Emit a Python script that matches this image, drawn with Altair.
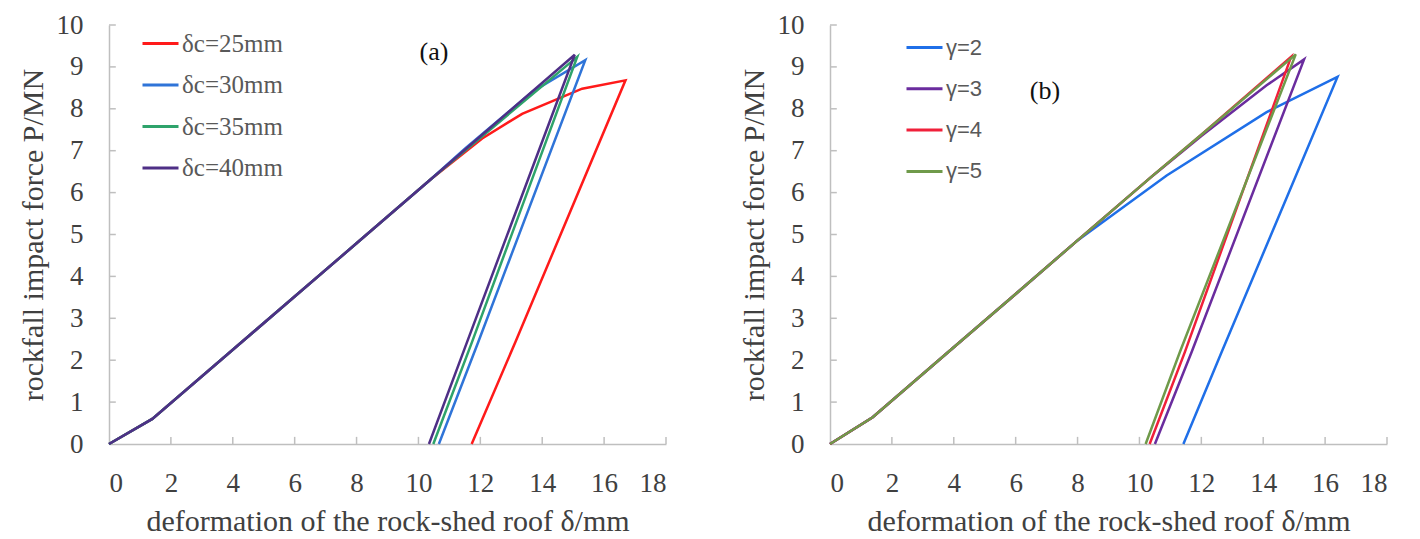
import altair as alt
import pandas as pd

# ---------------- data ----------------
x_ticks = [0, 2, 4, 6, 8, 10, 12, 14, 16, 18]
y_ticks = [0, 1, 2, 3, 4, 5, 6, 7, 8, 9, 10]

# panel (a)
a_names = ["δc=25mm", "δc=30mm", "δc=35mm", "δc=40mm"]
a_colors = ["#ff1a1a", "#2f74d8", "#2ea36b", "#4e2f86"]
a25_x = [0, 1.4, 4, 6, 8, 10.4, 12.06, 13.35, 15.29, 16.69, 13.13, 11.72]
a25_y = [0, 0.6, 2.25, 3.52, 4.79, 6.32, 7.29, 7.88, 8.48, 8.68, 2.43, 0]
a30_x = [0, 1.4, 4, 6, 8, 10.4, 11.5, 13.67, 15.39, 11.93, 10.66]
a30_y = [0, 0.6, 2.25, 3.52, 4.79, 6.32, 7.05, 8.40, 9.16, 2.43, 0]
a35_x = [0, 1.4, 4, 6, 8, 10.4, 15.13, 11.73, 10.48]
a35_y = [0, 0.6, 2.25, 3.52, 4.79, 6.32, 9.24, 2.43, 0]
a40_x = [0, 1.4, 4, 6, 8, 10.4, 15.05, 11.57, 10.34]
a40_y = [0, 0.6, 2.25, 3.52, 4.79, 6.32, 9.29, 2.43, 0]

# panel (b)
b_names = ["γ=2", "γ=3", "γ=4", "γ=5"]
b_colors = ["#1f6fe8", "#6a2c9e", "#f0203a", "#6f9a4a"]
b2_x = [0, 1.38, 4, 6, 8, 10.88, 14.11, 16.4, 12.66, 11.42]
b2_y = [0, 0.64, 2.31, 3.58, 4.86, 6.41, 7.92, 8.76, 2.2, 0]
b3_x = [0, 1.38, 4, 6, 8, 10.44, 12, 14.11, 15.32, 11.69, 10.5]
b3_y = [0, 0.64, 2.31, 3.58, 4.86, 6.41, 7.35, 8.56, 9.18, 2.2, 0]
b4_x = [0, 1.38, 4, 6, 8, 10.44, 12, 14.9, 11.47, 10.33]
b4_y = [0, 0.64, 2.31, 3.58, 4.86, 6.41, 7.38, 9.24, 2.2, 0]
b5_x = [0, 1.38, 4, 6, 8, 10.44, 12, 15.05, 11.31, 10.2]
b5_y = [0, 0.64, 2.31, 3.58, 4.86, 6.41, 7.38, 9.3, 2.2, 0]


def frame(series):
    rows = []
    for name, xs, ys in series:
        for i, (x, y) in enumerate(zip(xs, ys)):
            rows.append({"s": name, "i": i, "x": x, "y": y})
    return pd.DataFrame(rows)


# draw order: last one on top
a_df = frame([(a_names[0], a25_x, a25_y), (a_names[1], a30_x, a30_y),
              (a_names[2], a35_x, a35_y), (a_names[3], a40_x, a40_y)])
b_df = frame([(b_names[0], b2_x, b2_y), (b_names[1], b3_x, b3_y),
              (b_names[2], b4_x, b4_y), (b_names[3], b5_x, b5_y)])

xt_df = pd.DataFrame({"x": x_ticks[1:]})
yt_df = pd.DataFrame({"y": y_ticks[1:]})

X_TITLE = "deformation of the rock-shed roof δ/mm"
Y_TITLE = "rockfall impact force P/MN"
W, H = 557, 419
GRAY = "#bfbfbf"
SERIF = "'Liberation Serif', 'Times New Roman', 'DejaVu Serif', serif"
SANS = "'Liberation Sans', Arial, sans-serif"


def axis(values, title, tpad):
    return alt.Axis(values=values, title=title, titlePadding=tpad, labelPadding=26,
                    labelFont=SERIF, labelFontSize=27, labelColor="#404040",
                    titleFont=SERIF, titleFontSize=30, titleFontWeight="normal",
                    titleColor="#404040")


def panel(df, names, colors, tag, tag_x, tag_y, leg_x, leg_y, leg_font, leg_size, row_pad):
    xs = alt.Scale(domain=[0, 18], nice=False, zero=False)
    ys = alt.Scale(domain=[0, 10], nice=False, zero=False)
    lines = alt.Chart(df).mark_line(strokeWidth=2.5, clip=False).encode(
        x=alt.X("x:Q", scale=xs, axis=axis(x_ticks, X_TITLE, 10)),
        y=alt.Y("y:Q", scale=ys, axis=axis(y_ticks, Y_TITLE, 8)),
        color=alt.Color("s:N", scale=alt.Scale(domain=names, range=colors),
                        legend=alt.Legend(title=None, orient="none", legendX=leg_x, legendY=leg_y,
                                          symbolType="stroke", symbolSize=1296,
                                          symbolStrokeWidth=3, labelFont=leg_font,
                                          labelFontSize=leg_size, labelColor="#595959",
                                          labelOffset=2, rowPadding=row_pad, padding=0)),
        order=alt.Order("i:Q"),
    )
    xticks = alt.Chart(xt_df).mark_rule(color=GRAY, strokeWidth=1.5).encode(
        x=alt.X("x:Q", scale=xs), y=alt.datum(0), y2=alt.datum(0.17))
    yticks = alt.Chart(yt_df).mark_rule(color=GRAY, strokeWidth=1.5).encode(
        y=alt.Y("y:Q", scale=ys), x=alt.datum(0), x2=alt.datum(0.22))
    label = alt.Chart(pd.DataFrame({"t": [tag]})).mark_text(
        font=SERIF, fontSize=26, color="#111111").encode(
        text="t:N", x=alt.value(tag_x), y=alt.value(tag_y))
    return alt.layer(yticks, xticks, lines, label).properties(width=W, height=H)


left = panel(a_df, a_names, a_colors, "(a)", 325, 27, 32, -1, SERIF, 25, 8.5)
right = panel(b_df, b_names, b_colors, "(b)", 215, 66, 75, 3, SANS, 22, 10.3)

chart = alt.hconcat(left, right, spacing=72).resolve_scale(color="independent").properties(
    padding={"left": 10, "top": 3, "right": 0, "bottom": 0}
).configure_view(stroke=None).configure_axis(
    domainColor=GRAY, domainWidth=1.5, ticks=False, grid=False,
)

chart.save("out.html", embed_options={"renderer": "svg", "actions": False})
